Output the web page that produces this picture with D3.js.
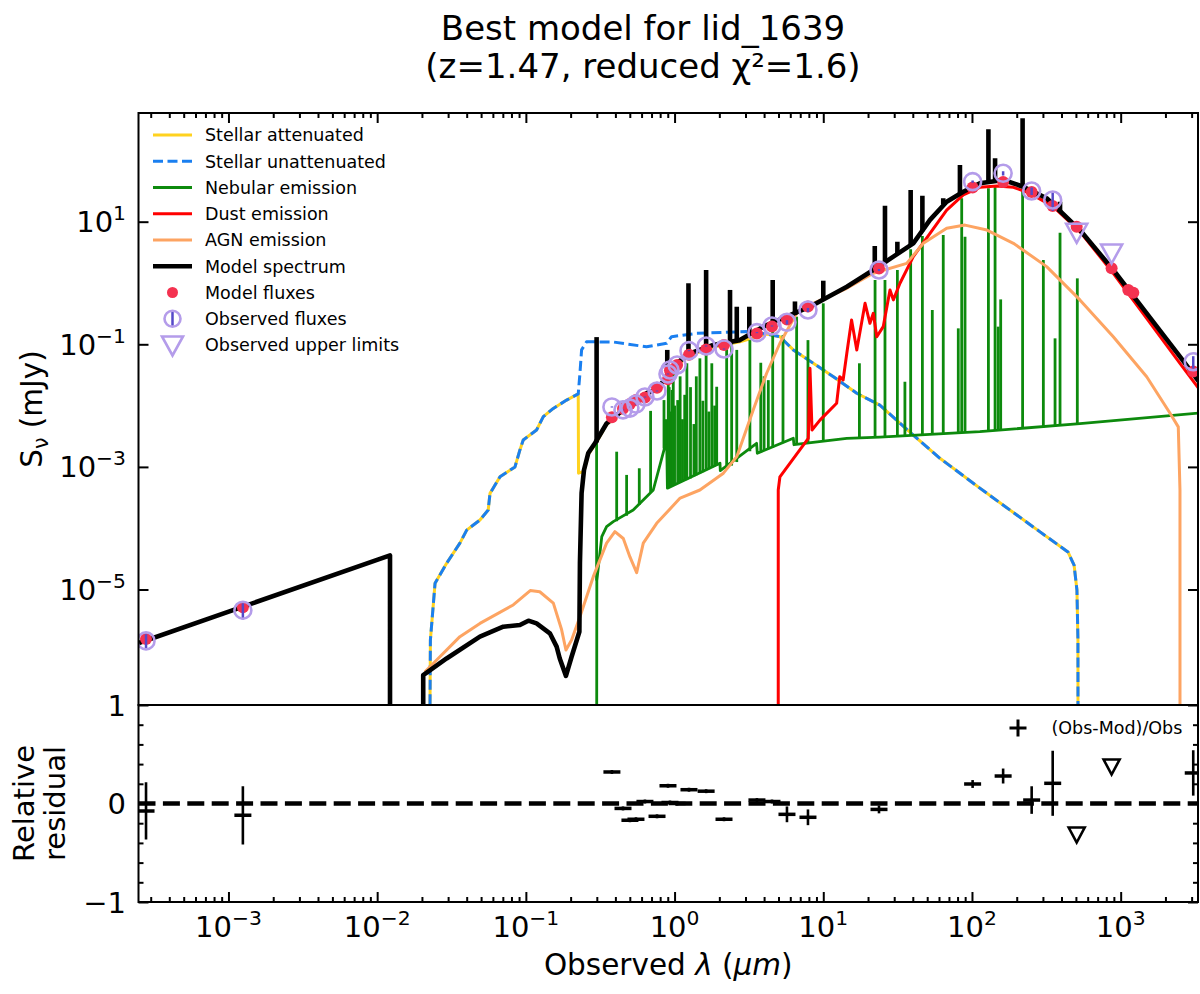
<!DOCTYPE html>
<html>
<head>
<meta charset="utf-8">
<script src="https://cdn.jsdelivr.net/npm/d3@7"></script>
<style>
  body { margin: 0; background: #fff; }
  text { font-family: "DejaVu Sans", sans-serif; fill: #000; }
</style>
</head>
<body>
<div id="chart"></div>
<script>
// ---- spectra, [wavelength (um), flux (mJy)] ----
const stellarAttenuated = [
  [0.0224, 1e-9], [0.0228, 1.5e-6], [0.0245, 1.26e-5], [0.0293, 2.67e-5], [0.036, 5.7e-5], [0.040, 9.3e-5],
  [0.0491, 1.36e-4], [0.0558, 1.98e-4], [0.0574, 3.7e-4], [0.067, 6.9e-4], [0.0845, 1.0e-3], [0.0912, 1.89e-3],
  [0.096, 2.75e-3], [0.118, 4.0e-3], [0.131, 6.6e-3], [0.153, 9.0e-3], [0.188, 0.0123], [0.225, 0.0155],
  [0.226, 7.9e-4], [0.246, 8.5e-4], [0.263, 1.6e-3], [0.292, 2.3e-3], [0.349, 4.9e-3], [0.387, 6.1e-3],
  [0.450, 8.2e-3], [0.542, 0.0105], [0.648, 0.0152], [0.765, 0.0178], [0.885, 0.027], [1.03, 0.045],
  [1.27, 0.066], [1.82, 0.09], [2.75, 0.11], [4.16, 0.147], [5.11, 0.133], [6.29, 0.081], [8.57, 0.049],
  [11.7, 0.0296], [16.8, 0.0159], [24.0, 0.0102], [40.3, 3.3e-3], [60.9, 1.38e-3], [113, 4.5e-4],
  [287, 8.7e-5], [442, 4.1e-5], [486, 2.5e-5], [508, 9.8e-6], [516, 1.5e-6], [517, 1e-9]
];
const stellarUnattenuated = [
  [0.0224, 1e-9], [0.0228, 1.5e-6], [0.0245, 1.26e-5], [0.0293, 2.67e-5], [0.036, 5.7e-5], [0.040, 9.3e-5],
  [0.0491, 1.36e-4], [0.0558, 1.98e-4], [0.0574, 3.7e-4], [0.067, 6.9e-4], [0.0845, 1.0e-3], [0.0912, 1.89e-3],
  [0.096, 2.75e-3], [0.118, 4.0e-3], [0.131, 6.6e-3], [0.153, 9.0e-3], [0.188, 0.0123], [0.225, 0.0155],
  [0.231, 0.0337], [0.237, 0.081], [0.256, 0.110], [0.387, 0.109], [0.648, 0.091], [0.885, 0.104],
  [0.955, 0.133], [1.41, 0.151], [3.05, 0.161], [4.16, 0.147], [5.11, 0.133], [6.29, 0.081], [8.57, 0.049],
  [11.7, 0.0296], [16.8, 0.0159], [24.0, 0.0102], [40.3, 3.3e-3], [60.9, 1.38e-3], [113, 4.5e-4],
  [287, 8.7e-5], [442, 4.1e-5], [486, 2.5e-5], [508, 9.8e-6], [516, 1.5e-6], [517, 1e-9]
];
const nebularContinuum = [
  [0.299, 1e-9], [0.300, 1.4e-5], [0.324, 7.3e-5], [0.349, 1.06e-4], [0.387, 1.28e-4], [0.527, 1.98e-4],
  [0.719, 4.2e-4], [0.885, 2.75e-3], [0.895, 4.5e-4], [2.02, 1.15e-3], [2.03, 8.7e-4], [3.56, 2.43e-3],
  [3.60, 1.67e-3], [6.29, 2.93e-3], [6.35, 2.3e-3], [14.4, 2.93e-3], [24.0, 3.07e-3], [113, 3.75e-3],
  [532, 5.1e-3], [3410, 7.6e-3]
];
// [wavelength, continuum, peak]
const nebularLines = [
  [0.299, 1.4e-5, 0.12], [0.408, 1.3e-4, 1.77e-3], [0.476, 1.6e-4, 7.4e-4], [0.579, 2.4e-4, 9.5e-4],
  [0.690, 3.9e-4, 8.2e-3], [0.849, 2.0e-3, 0.0123], [0.870, 2.3e-3, 0.006], [0.907, 4.6e-4, 0.0296],
  [0.92, 4.7e-4, 0.02], [0.94, 4.8e-4, 0.008], [0.962, 4.9e-4, 0.018], [0.98, 5.0e-4, 0.035],
  [1.0, 5.1e-4, 0.01], [1.05, 5.3e-4, 0.0123], [1.09, 5.5e-4, 0.03], [1.13, 5.7e-4, 0.006],
  [1.17, 5.9e-4, 0.015], [1.21, 6.1e-4, 0.049], [1.28, 6.5e-4, 0.02], [1.35, 7.0e-4, 0.005],
  [1.40, 7.3e-4, 0.03], [1.48, 7.8e-4, 0.059], [1.55, 8.2e-4, 0.012], [1.63, 8.8e-4, 0.067],
  [1.70, 9.2e-4, 0.008], [1.78, 9.7e-4, 0.049], [1.86, 1.02e-3, 0.01], [1.92, 1.06e-3, 0.0203],
  [2.24, 9.3e-4, 0.091], [2.42, 1.05e-3, 0.104], [2.62, 1.2e-3, 0.081], [3.21, 1.8e-3, 0.117],
  [3.8, 1.75e-3, 0.05], [4.0, 1.85e-3, 0.03], [4.27, 1.95e-3, 0.026], [4.57, 2.05e-3, 0.22],
  [5.36, 2.45e-3, 0.142], [6.62, 2.35e-3, 0.282], [7.89, 2.45e-3, 0.117], [10.0, 2.6e-3, 0.466],
  [17.5, 2.98e-3, 0.049], [22.3, 3.05e-3, 1.12], [26.0, 3.1e-3, 1.12], [31.5, 3.15e-3, 1.63],
  [35.4, 3.2e-3, 0.0245], [38.7, 3.25e-3, 3.55], [46.4, 3.3e-3, 5.84], [54.1, 3.35e-3, 0.363],
  [64.1, 3.4e-3, 6.07], [80.9, 3.55e-3, 0.182], [85.3, 3.6e-3, 24.1], [89.8, 3.6e-3, 5.7],
  [129, 3.85e-3, 35.1], [143, 3.9e-3, 37.2], [150, 3.95e-3, 0.194], [156, 3.95e-3, 0.54],
  [219, 4.2e-3, 32.9], [302, 4.4e-3, 2.37], [362, 4.6e-3, 0.125], [391, 4.7e-3, 6.6], [511, 5.0e-3, 1.19]
];
const dustEmission = [
  [4.98, 1e-9], [4.98, 4.2e-4], [5.11, 6.9e-4], [7.93, 2.93e-3], [8.14, 0.0406], [8.4, 4.0e-3],
  [9.5, 5.8e-3], [12.3, 0.0109], [12.9, 0.0296], [13.6, 0.0262], [14.4, 0.0713], [15.5, 0.249],
  [16.8, 0.081], [19.1, 0.466], [20.6, 0.22], [21.7, 0.32], [22.9, 0.133], [25.3, 0.194], [28.1, 0.77],
  [29.6, 0.53], [32.8, 0.99], [40.3, 2.69], [52.2, 6.46], [67.6, 15.5], [87.4, 27.3], [113, 36.4],
  [147, 38.2], [190, 36.4], [246, 29.0], [352, 17.6], [532, 6.9], [892, 1.44], [1496, 0.265],
  [2505, 0.049], [3410, 0.018]
];
const agnEmission = [
  [0.0209, 4.5e-7], [0.036, 1.7e-6], [0.0491, 2.8e-6], [0.0822, 5.6e-6], [0.107, 9.6e-6], [0.124, 9.2e-6],
  [0.153, 6.0e-6], [0.174, 2.2e-6], [0.186, 1.03e-6], [0.203, 1.5e-6], [0.231, 3.6e-6], [0.284, 1.62e-5],
  [0.349, 5.7e-5], [0.397, 8.8e-5], [0.452, 6.8e-5], [0.501, 3.4e-5], [0.556, 1.88e-5], [0.616, 5.7e-5],
  [0.758, 1.2e-4], [1.09, 3.1e-4], [1.48, 4.2e-4], [2.13, 7.9e-4], [2.62, 1.47e-3], [3.38, 8.5e-3],
  [4.16, 0.0337], [5.11, 0.104], [6.62, 0.32], [8.57, 0.466], [14.4, 0.82], [21.7, 1.44], [36.4, 2.09],
  [47.1, 4.44], [67.6, 7.8], [89.8, 8.8], [126, 7.3], [190, 4.44], [318, 1.85], [532, 0.53], [892, 0.133],
  [1496, 0.0296], [2148, 7.5e-3], [2440, 4.5e-3], [2505, 4.2e-4], [2506, 1e-9]
];
const modelSpectrum = [
  [2.4e-4, 1.3e-6], [0.0122, 3.6e-5], [0.0122, 1e-9], [0.0204, 1e-9], [0.0204, 4.0e-7], [0.0293, 7.5e-7],
  [0.0491, 1.7e-6], [0.0705, 2.47e-6], [0.0912, 2.64e-6], [0.104, 3.1e-6], [0.118, 2.8e-6], [0.145, 1.93e-6],
  [0.161, 1.17e-6], [0.169, 7.5e-7], [0.186, 3.9e-7], [0.203, 8.0e-7], [0.229, 2.05e-6], [0.231, 2.7e-5],
  [0.237, 3.75e-4], [0.246, 8.9e-4], [0.263, 1.69e-3], [0.292, 2.45e-3], [0.349, 5.1e-3], [0.387, 6.3e-3],
  [0.450, 8.5e-3], [0.542, 0.0109], [0.648, 0.0159], [0.765, 0.0185], [0.885, 0.0296], [1.03, 0.049],
  [1.27, 0.0713], [1.82, 0.0975], [2.75, 0.117], [3.95, 0.194], [5.67, 0.282], [8.14, 0.41], [14.4, 0.87],
  [21.7, 1.63], [29.6, 2.69], [40.3, 4.44], [52.2, 10.7], [67.6, 21.2], [87.4, 30.8], [113, 42.3],
  [163, 47.9], [221, 37.2], [318, 24.1], [532, 7.3], [892, 1.63], [1496, 0.32], [2505, 0.0628], [3410, 0.0234]
];
const modelLines = [
  [0.299, 2.5e-3, 0.131], [0.893, 0.028, 0.081], [1.24, 0.07, 0.99], [1.63, 0.09, 1.63], [2.36, 0.105, 0.77],
  [2.62, 0.115, 0.41], [3.18, 0.14, 0.41], [4.57, 0.22, 1.12], [6.45, 0.3, 0.50], [10.0, 0.55, 1.09],
  [22.2, 1.7, 4.0], [26.0, 2.1, 18.2], [31.5, 2.9, 4.7], [38.7, 4.0, 32.9], [46.4, 7.0, 26.5],
  [64.1, 19, 24.1], [83.0, 29, 84], [129, 45, 321], [143, 46, 108], [219, 38, 486], [391, 15, 21.2]
];

// ---- photometry ----
const obsWave = [2.79e-4, 1.25e-3, 0.379, 0.450, 0.501, 0.550, 0.632, 0.762, 0.903, 0.931, 1.04, 1.25,
  1.63, 2.15, 3.58, 4.52, 5.70, 7.89, 23.7, 101, 162, 252, 349, 3076];
const obsFlux = [1.45e-6, 4.6e-6, 9.5e-3, 8.5e-3, 9.1e-3, 0.0106, 0.0138, 0.0173, 0.0328, 0.0381, 0.0459, 0.0787,
  0.0938, 0.0838, 0.155, 0.199, 0.229, 0.363, 1.63, 45.0, 61.6, 31.7, 22.6, 0.052];
const obsRelErr = [0.29, 0.295, 0.02, 0.02, 0.02, 0.02, 0.02, 0.02, 0.02, 0.02, 0.02, 0.02,
  0.02, 0.02, 0.02, 0.02, 0.08, 0.08, 0.04, 0.04, 0.076, 0.14, 0.33, 0.23];
const residual = [-0.075, -0.12, 0.32, -0.05, -0.17, -0.16, 0.02, -0.13, 0.18, 0.01, 0.0, 0.14,
  0.125, -0.16, 0.035, 0.02, -0.11, -0.14, -0.06, 0.198, 0.279, 0.035, 0.205, 0.31];
const modelWave = [2.79e-4, 1.25e-3, 0.379, 0.450, 0.501, 0.550, 0.632, 0.762, 0.903, 0.931, 1.04, 1.25,
  1.63, 2.15, 3.58, 4.52, 5.70, 7.89, 23.7, 101, 162, 252, 349, 506, 869, 1125, 1216, 3076];
const modelFlux = [1.56e-6, 5.15e-6, 6.46e-3, 8.9e-3, 0.0106, 0.0123, 0.0135, 0.0195, 0.0269, 0.0377, 0.0459, 0.0677,
  0.0821, 0.0972, 0.150, 0.195, 0.254, 0.414, 1.73, 36.1, 44.4, 30.6, 18.0, 8.3, 1.74, 0.77, 0.695, 0.0359];
const ulWave = [506, 869];
const ulFlux = [6.47, 2.97];
const ulResidual = [-0.32, 0.37];

const xTickExp = [-3, -2, -1, 0, 1, 2, 3];
const yTickExp = [-5, -3, -1, 1];
const resTicks = [-1, 0, 1];
const legendLabels = ["Stellar attenuated", "Stellar unattenuated", "Nebular emission", "Dust emission",
  "AGN emission", "Model spectrum", "Model fluxes", "Observed fluxes", "Observed upper limits"];

// ---- layout ----
const width = 1200, height = 994;
const L = 138.5, R = 1198, T = 113, MB = 705, RB = 902;
const C = {
  gold: "#ffd21f", blue: "#1a7ff0", green: "#0d8a0d", red: "#ff0000", agn: "#fda462",
  dot: "#f43250", ring: "#b49cea", bar: "#5548c8"
};

const svg = d3.select("#chart").append("svg")
  .attr("width", width)
  .attr("height", height);

const x = d3.scaleLog().domain([Math.pow(10, -3.605), Math.pow(10, 3.52)]).range([L, R]);
const y = d3.scaleLog().domain([Math.pow(10, -6.884), Math.pow(10, 2.773)]).range([MB, T]);
const yr = d3.scaleLinear().domain([-1, 1]).range([RB, MB]);

const defs = svg.append("defs");
defs.append("clipPath").attr("id", "clipMain").append("rect")
  .attr("x", L).attr("y", T).attr("width", R - L).attr("height", MB - T);
defs.append("clipPath").attr("id", "clipRes").append("rect")
  .attr("x", L).attr("y", MB).attr("width", R - L).attr("height", RB - MB);

const line = d3.line().x(d => x(d[0])).y(d => y(d[1]));

// ---- main panel ----
const main = svg.append("g").attr("clip-path", "url(#clipMain)");

function drawSeries(data, color, w, dash) {
  main.append("path")
    .datum(data)
    .attr("d", line)
    .attr("fill", "none")
    .attr("stroke", color)
    .attr("stroke-width", w)
    .attr("stroke-linejoin", "round")
    .attr("stroke-dasharray", dash || null);
}
function drawLines(data, color, w) {
  main.append("g").selectAll("line")
    .data(data)
    .enter()
    .append("line")
    .attr("x1", d => x(d[0])).attr("x2", d => x(d[0]))
    .attr("y1", d => y(d[1])).attr("y2", d => y(d[2]))
    .attr("stroke", color)
    .attr("stroke-width", w);
}

drawSeries(stellarAttenuated, C.gold, 3);
drawSeries(stellarUnattenuated, C.blue, 3, "10,4.5");
drawSeries(nebularContinuum, C.green, 2.8);
drawLines(nebularLines, C.green, 2.8);
drawSeries(dustEmission, C.red, 3);
drawSeries(agnEmission, C.agn, 3);
drawSeries(modelSpectrum, "#000", 4.6);
drawLines(modelLines, "#000", 4.6);

// model fluxes
main.append("g").selectAll("circle")
  .data(modelWave)
  .enter()
  .append("circle")
  .attr("cx", d => x(d))
  .attr("cy", (d, i) => y(modelFlux[i]))
  .attr("r", 6)
  .attr("fill", C.dot);

// observed fluxes with error bars
const obs = main.append("g");
obs.selectAll("line")
  .data(obsWave)
  .enter()
  .append("line")
  .attr("x1", d => x(d)).attr("x2", d => x(d))
  .attr("y1", (d, i) => y(obsFlux[i] * (1 - obsRelErr[i])))
  .attr("y2", (d, i) => y(obsFlux[i] * (1 + obsRelErr[i])))
  .attr("stroke", C.bar)
  .attr("stroke-width", 2.5);
obs.selectAll("circle")
  .data(obsWave)
  .enter()
  .append("circle")
  .attr("cx", d => x(d))
  .attr("cy", (d, i) => y(obsFlux[i]))
  .attr("r", 8.5)
  .attr("fill", "none")
  .attr("stroke", C.ring)
  .attr("stroke-width", 2.6);

const tri = (cx, cy, w, h) => `M${cx - w / 2},${cy - h / 2}L${cx + w / 2},${cy - h / 2}L${cx},${cy + h / 2}Z`;
main.append("g").selectAll("path")
  .data(ulWave)
  .enter()
  .append("path")
  .attr("d", (d, i) => tri(x(d), y(ulFlux[i]), 21, 19))
  .attr("fill", "none")
  .attr("stroke", C.ring)
  .attr("stroke-width", 2.6);

// legend
const leg = svg.append("g");
const legendStyles = [
  [C.gold, 3, null], [C.blue, 3, "10,4.5"], [C.green, 3, null], [C.red, 3, null],
  [C.agn, 3, null], ["#000", 4.6, null]
];
legendLabels.forEach((lab, i) => {
  const cy = 135 + i * 26.25;
  if (i < 6) {
    leg.append("line").attr("x1", 153).attr("x2", 192).attr("y1", cy).attr("y2", cy)
      .attr("stroke", legendStyles[i][0]).attr("stroke-width", legendStyles[i][1])
      .attr("stroke-dasharray", legendStyles[i][2]);
  } else if (i === 6) {
    leg.append("circle").attr("cx", 172.5).attr("cy", cy).attr("r", 5.5).attr("fill", C.dot);
  } else if (i === 7) {
    leg.append("line").attr("x1", 172.5).attr("x2", 172.5).attr("y1", cy - 7).attr("y2", cy + 7)
      .attr("stroke", C.bar).attr("stroke-width", 2.5);
    leg.append("circle").attr("cx", 172.5).attr("cy", cy).attr("r", 8)
      .attr("fill", "none").attr("stroke", C.ring).attr("stroke-width", 2.6);
  } else {
    leg.append("path").attr("d", tri(172.5, cy + 1, 21, 19))
      .attr("fill", "none").attr("stroke", C.ring).attr("stroke-width", 2.6);
  }
  leg.append("text").attr("x", 205).attr("y", cy).attr("dy", "0.36em")
    .attr("font-size", 17.5).text(lab);
});

// ---- residual panel ----
const res = svg.append("g").attr("clip-path", "url(#clipRes)");
res.append("line")
  .attr("x1", L).attr("x2", R)
  .attr("y1", yr(0)).attr("y2", yr(0))
  .attr("stroke", "#000")
  .attr("stroke-width", 4.6)
  .attr("stroke-dasharray", "17,7.4");

const resG = res.append("g");
resG.selectAll("line.err")
  .data(obsWave)
  .enter()
  .append("line")
  .attr("class", "err")
  .attr("x1", d => x(d)).attr("x2", d => x(d))
  .attr("y1", (d, i) => yr(residual[i] - obsRelErr[i]))
  .attr("y2", (d, i) => yr(residual[i] + obsRelErr[i]))
  .attr("stroke", "#000")
  .attr("stroke-width", 2.6);
resG.selectAll("line.mk")
  .data(obsWave)
  .enter()
  .append("line")
  .attr("class", "mk")
  .attr("x1", d => x(d) - 8.5).attr("x2", d => x(d) + 8.5)
  .attr("y1", (d, i) => yr(residual[i]))
  .attr("y2", (d, i) => yr(residual[i]))
  .attr("stroke", "#000")
  .attr("stroke-width", 3.5);
resG.selectAll("path")
  .data(ulWave)
  .enter()
  .append("path")
  .attr("d", (d, i) => tri(x(d), yr(ulResidual[i]), 16, 15))
  .attr("fill", "none")
  .attr("stroke", "#000")
  .attr("stroke-width", 2.6);

// residual legend
svg.append("line").attr("x1", 1009.5).attr("x2", 1026.5).attr("y1", 728).attr("y2", 728)
  .attr("stroke", "#000").attr("stroke-width", 3);
svg.append("line").attr("x1", 1018).attr("x2", 1018).attr("y1", 719.5).attr("y2", 736.5)
  .attr("stroke", "#000").attr("stroke-width", 3);
svg.append("text").attr("x", 1051.5).attr("y", 728).attr("dy", "0.36em")
  .attr("font-size", 17.5).text("(Obs-Mod)/Obs");

// ---- axes ----
const xMajor = xTickExp.map(e => Math.pow(10, e));
const xMinor = [];
for (let e = -4; e <= 3; e++) {
  for (let k = 2; k <= 9; k++) {
    const v = k * Math.pow(10, e);
    if (v > x.domain()[0] && v < x.domain()[1]) xMinor.push(v);
  }
}

function styleAxis(g) {
  g.select(".domain").remove();
  g.selectAll("line").attr("stroke", "#000").attr("stroke-width", 2);
}

svg.append("g").attr("transform", `translate(0,${T})`)
  .call(d3.axisTop(x).tickValues(xMajor).tickSize(-10).tickFormat("")).call(styleAxis);
svg.append("g").attr("transform", `translate(0,${T})`)
  .call(d3.axisTop(x).tickValues(xMinor).tickSize(-5).tickFormat("")).call(styleAxis);
svg.append("g").attr("transform", `translate(0,${RB})`)
  .call(d3.axisBottom(x).tickValues(xMajor).tickSize(-10).tickFormat("")).call(styleAxis);
svg.append("g").attr("transform", `translate(0,${RB})`)
  .call(d3.axisBottom(x).tickValues(xMinor).tickSize(-5).tickFormat("")).call(styleAxis);

const yMajor = yTickExp.map(e => Math.pow(10, e));
svg.append("g").attr("transform", `translate(${L},0)`)
  .call(d3.axisLeft(y).tickValues(yMajor).tickSize(-10).tickFormat("")).call(styleAxis);
svg.append("g").attr("transform", `translate(${R},0)`)
  .call(d3.axisRight(y).tickValues(yMajor).tickSize(-10).tickFormat("")).call(styleAxis);

const resMinor = d3.range(-0.8, 0.81, 0.2).filter(v => Math.abs(v) > 0.01);
[[d3.axisLeft, L], [d3.axisRight, R]].forEach(([ax, pos]) => {
  svg.append("g").attr("transform", `translate(${pos},0)`)
    .call(ax(yr).tickValues(resTicks).tickSize(-10).tickFormat("")).call(styleAxis);
  svg.append("g").attr("transform", `translate(${pos},0)`)
    .call(ax(yr).tickValues(resMinor).tickSize(-5).tickFormat("")).call(styleAxis);
});

// spines
svg.append("rect").attr("x", L).attr("y", T).attr("width", R - L).attr("height", MB - T)
  .attr("fill", "none").attr("stroke", "#000").attr("stroke-width", 2);
svg.append("rect").attr("x", L).attr("y", MB).attr("width", R - L).attr("height", RB - MB)
  .attr("fill", "none").attr("stroke", "#000").attr("stroke-width", 2);

// tick labels
const fmtExp = e => (e < 0 ? "\u2212" : "") + Math.abs(e);
xTickExp.forEach(e => {
  const t = svg.append("text").attr("x", x(Math.pow(10, e))).attr("y", 937)
    .attr("text-anchor", "middle").attr("font-size", 29);
  t.append("tspan").text("10");
  t.append("tspan").attr("dy", -12).attr("font-size", 20.3).text(fmtExp(e));
});
yTickExp.forEach(e => {
  const t = svg.append("text").attr("x", 126).attr("y", y(Math.pow(10, e)) + 10.5)
    .attr("text-anchor", "end").attr("font-size", 29);
  t.append("tspan").text("10");
  t.append("tspan").attr("dy", -12).attr("font-size", 20.3).text(fmtExp(e));
});
resTicks.forEach(v => {
  svg.append("text").attr("x", 126).attr("y", yr(v) + 10.5)
    .attr("text-anchor", "end").attr("font-size", 29)
    .text(v < 0 ? "\u2212" + Math.abs(v) : v);
});

// axis labels
const yl = svg.append("text").attr("transform", `translate(42,${(T + MB) / 2}) rotate(-90)`)
  .attr("text-anchor", "middle").attr("font-size", 29.5);
yl.append("tspan").text("S");
yl.append("tspan").attr("dy", 6).attr("font-size", 20.6).text("\u03bd");
yl.append("tspan").attr("dy", -6).text(" (mJy)");

svg.append("text").attr("transform", `translate(34,${(MB + RB) / 2}) rotate(-90)`)
  .attr("text-anchor", "middle").attr("font-size", 29).text("Relative");
svg.append("text").attr("transform", `translate(65,${(MB + RB) / 2}) rotate(-90)`)
  .attr("text-anchor", "middle").attr("font-size", 29).text("residual");

const xl = svg.append("text").attr("x", (L + R) / 2).attr("y", 975)
  .attr("text-anchor", "middle").attr("font-size", 29.5);
xl.append("tspan").text("Observed ");
xl.append("tspan").attr("font-style", "italic").text("\u03bb");
xl.append("tspan").text(" (");
xl.append("tspan").attr("font-style", "italic").text("\u03bcm");
xl.append("tspan").text(")");

// title
svg.append("text").attr("x", 643).attr("y", 40).attr("text-anchor", "middle")
  .attr("font-size", 34).text("Best model for lid_1639");
svg.append("text").attr("x", 643).attr("y", 78).attr("text-anchor", "middle")
  .attr("font-size", 34).text("(z=1.47, reduced \u03c7\u00b2=1.6)");
</script>
</body>
</html>
